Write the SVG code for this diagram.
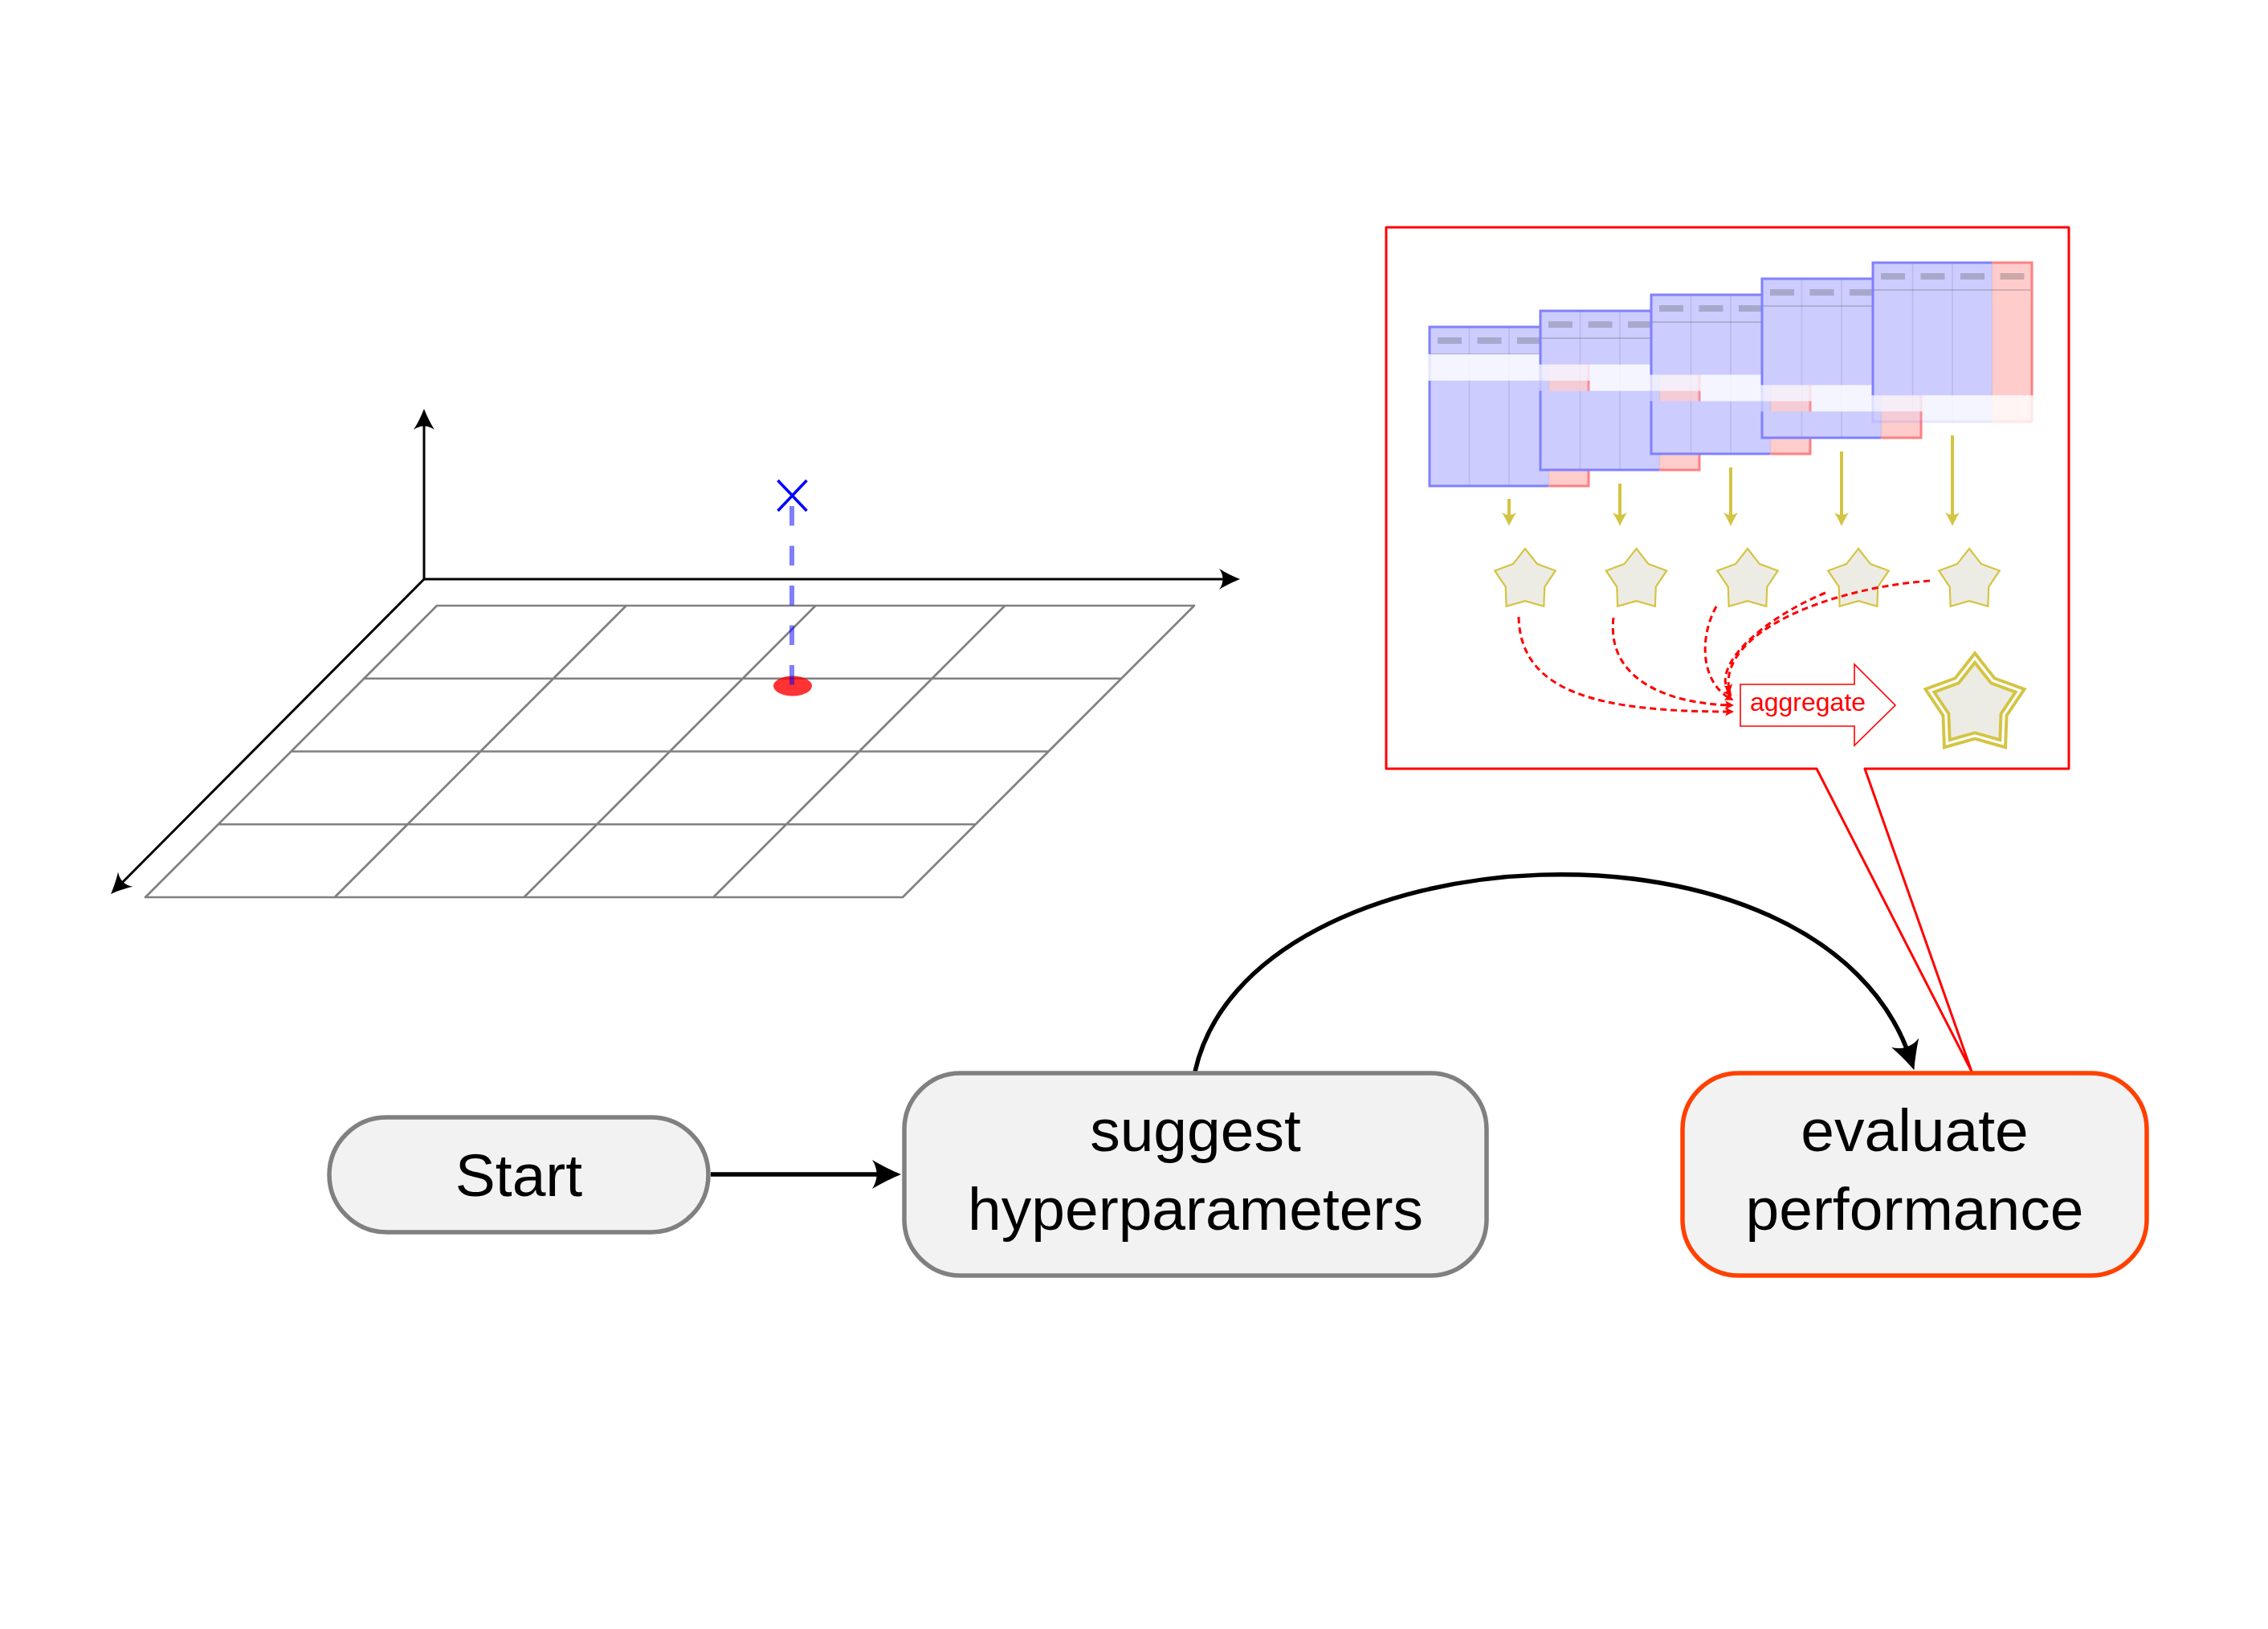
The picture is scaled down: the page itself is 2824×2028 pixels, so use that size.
<svg xmlns="http://www.w3.org/2000/svg" xmlns:xlink="http://www.w3.org/1999/xlink" width="2824" height="2028" viewBox="0 0 2824 2028">
<style>
.grid{stroke:#808080;stroke-width:2.7;fill:none;stroke-linecap:round}
.axis{stroke:#000;stroke-width:3;fill:none}
.node{fill:#f2f2f2;stroke:#808080;stroke-width:5.5}
.lbl{font-family:"Liberation Sans",Arial,Helvetica,sans-serif;font-size:75px;text-anchor:middle;fill:#000}
.yarr{stroke:#d4c443;stroke-width:4;fill:none}
.rdash{stroke:#ff0000;stroke-width:3;fill:none;stroke-dasharray:8 5}
.star{fill:#edece4;stroke:#d4c443;stroke-width:2.2}
</style>
<defs>
<marker id="ahB" markerUnits="userSpaceOnUse" viewBox="-38 -20 40 40" refX="-14" refY="0" markerWidth="40" markerHeight="40" orient="auto">
<path d="M0 0 C-10 -4 -25 -11.5 -36 -18 C-28.5 -7 -28.5 7 -36 18 C-25 11.5 -10 4 0 0Z" fill="#000"/>
</marker>
<marker id="ahA" markerUnits="userSpaceOnUse" viewBox="-28 -15 30 30" refX="-10" refY="0" markerWidth="30" markerHeight="30" orient="auto">
<path d="M0 0 C-8 -3 -18 -8 -26 -13 C-20 -5 -20 5 -26 13 C-18 8 -8 3 0 0Z" fill="#000"/>
</marker>
<marker id="ahY" markerUnits="userSpaceOnUse" viewBox="-19 -10 21 20" refX="-6" refY="0" markerWidth="21" markerHeight="20" orient="auto">
<path d="M0 0 C-5 -2 -12 -6 -17 -9 C-13 -3 -13 3 -17 9 C-12 6 -5 2 0 0Z" fill="#d4c443"/>
</marker>
<marker id="ahR" markerUnits="userSpaceOnUse" viewBox="-13 -7 15 14" refX="-4" refY="0" markerWidth="15" markerHeight="14" orient="auto">
<path d="M0 0 C-3 -1.5 -7 -3.5 -11 -5.5 C-8.5 -2 -8.5 2 -11 5.5 C-7 3.5 -3 1.5 0 0Z" fill="#ff0000"/>
</marker>
<g id="tbl">
<rect x="0" y="0" width="148.5" height="198" fill="#ccccff"/>
<rect x="148.5" y="0" width="49.5" height="198" fill="#ffcccc"/>
<path d="M49.5 0V198M99 0V198M148.5 0V198" stroke="#555" stroke-opacity="0.15" stroke-width="1.5" fill="none"/>
<path d="M0 34H198" stroke="#555" stroke-opacity="0.35" stroke-width="1.5" fill="none"/>
<g fill="#555" fill-opacity="0.3">
<rect x="10" y="13" width="30" height="8"/>
<rect x="59.5" y="13" width="30" height="8"/>
<rect x="109" y="13" width="30" height="8"/>
<rect x="158.5" y="13" width="30" height="8"/>
</g>
<path d="M148.5 0H0V198H148.5" stroke="#8080ff" stroke-width="3" fill="none"/>
<path d="M148.5 0H198V198H148.5" stroke="#ff8080" stroke-width="3" fill="none"/>
</g>
<mask id="mf1" maskUnits="userSpaceOnUse" x="-5" y="-5" width="208" height="212">
<rect x="-5" y="-5" width="208" height="39" fill="#fff"/>
<rect x="-5" y="34" width="208" height="32.8" fill="#fff" fill-opacity="0.2"/>
<rect x="-5" y="66.8" width="208" height="140" fill="#fff"/>
</mask>
<mask id="mf2" maskUnits="userSpaceOnUse" x="-5" y="-5" width="208" height="212">
<rect x="-5" y="-5" width="208" height="71.8" fill="#fff"/>
<rect x="-5" y="66.8" width="208" height="32.8" fill="#fff" fill-opacity="0.2"/>
<rect x="-5" y="99.6" width="208" height="108" fill="#fff"/>
</mask>
<mask id="mf3" maskUnits="userSpaceOnUse" x="-5" y="-5" width="208" height="212">
<rect x="-5" y="-5" width="208" height="104.6" fill="#fff"/>
<rect x="-5" y="99.6" width="208" height="32.8" fill="#fff" fill-opacity="0.2"/>
<rect x="-5" y="132.4" width="208" height="75" fill="#fff"/>
</mask>
<mask id="mf4" maskUnits="userSpaceOnUse" x="-5" y="-5" width="208" height="212">
<rect x="-5" y="-5" width="208" height="137.4" fill="#fff"/>
<rect x="-5" y="132.4" width="208" height="32.8" fill="#fff" fill-opacity="0.2"/>
<rect x="-5" y="165.2" width="208" height="42" fill="#fff"/>
</mask>
<mask id="mf5" maskUnits="userSpaceOnUse" x="-5" y="-5" width="208" height="212">
<rect x="-5" y="-5" width="208" height="170.2" fill="#fff"/>
<rect x="-5" y="165.2" width="208" height="42" fill="#fff" fill-opacity="0.2"/>
</mask>
<path id="star" d="M0 -39.7L14.99 -20.63L37.76 -12.27L24.25 7.88L23.34 32.12L0 25.5L-23.34 32.12L-24.25 7.88L-37.76 -12.27L-14.99 -20.63Z"/>
<path id="bigstar" d="M0 -59L22.28 -30.66L56.11 -18.23L36.05 11.71L34.68 47.73L0 37.9L-34.68 47.73L-36.05 11.71L-56.11 -18.23L-22.28 -30.66Z"/>
</defs>
<rect width="2824" height="2028" fill="#fff"/>

<g id="search-space">
<path class="grid" d="M544 754H1487M453.25 844.75H1396.25M362.5 935.5H1305.5M271.75 1026.25H1214.75M181 1117H1124M544 754L181 1117M779.75 754L416.75 1117M1015.5 754L652.5 1117M1251.25 754L888.25 1117M1487 754L1124 1117"/>
<path class="axis" d="M528 721V519" marker-end="url(#ahA)"/>
<path class="axis" d="M528 721H1534" marker-end="url(#ahA)"/>
<path class="axis" d="M528 721L145 1106" marker-end="url(#ahA)"/>
<ellipse cx="987" cy="854" rx="24" ry="12.5" fill="#ff0000" fill-opacity="0.8"/>
<path d="M986 630V853" stroke="#0000ff" stroke-opacity="0.5" stroke-width="6" stroke-dasharray="24.5 25" fill="none"/>
<path d="M968.5 598L1004.5 636M1004.5 598L968.5 636" stroke="#0000ff" stroke-width="3.5" fill="none"/>
</g>

<g id="callout">
<path d="M2262 957L2455 1334L2322 957H2576V283H1726V957Z" fill="#fff" stroke="#ff0000" stroke-width="3" stroke-linejoin="round"/>
</g>

<g id="folds">
<g transform="translate(1780,407)"><g mask="url(#mf1)"><use xlink:href="#tbl" href="#tbl"/></g></g>
<g transform="translate(1918,387)"><g mask="url(#mf2)"><use xlink:href="#tbl" href="#tbl"/></g></g>
<g transform="translate(2056,367)"><g mask="url(#mf3)"><use xlink:href="#tbl" href="#tbl"/></g></g>
<g transform="translate(2194,347)"><g mask="url(#mf4)"><use xlink:href="#tbl" href="#tbl"/></g></g>
<g transform="translate(2332,327)"><g mask="url(#mf5)"><use xlink:href="#tbl" href="#tbl"/></g></g>
</g>

<g id="fold-arrows">
<path class="yarr" d="M1879 621V649" marker-end="url(#ahY)"/>
<path class="yarr" d="M2017 602V649" marker-end="url(#ahY)"/>
<path class="yarr" d="M2155 582V649" marker-end="url(#ahY)"/>
<path class="yarr" d="M2293 562V649" marker-end="url(#ahY)"/>
<path class="yarr" d="M2431 542V649" marker-end="url(#ahY)"/>
</g>

<g id="scores">
<use class="star" xlink:href="#star" href="#star" x="1899" y="722.7"/>
<use class="star" xlink:href="#star" href="#star" x="2037.5" y="722.7"/>
<use class="star" xlink:href="#star" href="#star" x="2176" y="722.7"/>
<use class="star" xlink:href="#star" href="#star" x="2314" y="722.7"/>
<use class="star" xlink:href="#star" href="#star" x="2452" y="722.7"/>
</g>

<g id="score-links">
<path class="rdash" d="M1891 768C1893 862 1990 886 2155 886" marker-end="url(#ahR)"/>
<path class="rdash" d="M2009 769C2000 845 2075 876 2155 878" marker-end="url(#ahR)"/>
<path class="rdash" d="M2137 755C2115 795 2118 850 2155 870" marker-end="url(#ahR)"/>
<path class="rdash" d="M2273 738C2195 770 2128 830 2154 864" marker-end="url(#ahR)"/>
<path class="rdash" d="M2403 723C2270 733 2140 790 2153 859" marker-end="url(#ahR)"/>
</g>

<g id="aggregate">
<path d="M2167 852H2309V827L2360 878L2309 928V904H2167Z" fill="#fff" stroke="#ff0000" stroke-width="1.6"/>
<text x="2251" y="885" font-family="Liberation Sans, Arial, Helvetica, sans-serif" font-size="32" text-anchor="middle" fill="#ff0000">aggregate</text>
</g>

<g id="final-score" transform="translate(2459,878)">
<use xlink:href="#bigstar" href="#bigstar" fill="#edece4" stroke="#d4c443" stroke-width="11" stroke-miterlimit="10"/>
<use xlink:href="#bigstar" href="#bigstar" fill="none" stroke="#fff" stroke-width="3.2" stroke-miterlimit="10"/>
</g>

<g id="connectors">
<path d="M885 1462H1108" stroke="#000" stroke-width="5.5" fill="none" marker-end="url(#ahB)"/>
<path d="M1488 1334C1555 1030 2270 990 2379 1319" stroke="#000" stroke-width="5.5" fill="none" marker-end="url(#ahB)"/>
</g>

<g id="node-start">
<rect class="node" x="410" y="1391" width="472" height="143" rx="71.5" ry="71.5"/>
<text class="lbl" x="646" y="1489">Start</text>
</g>
<g id="node-suggest">
<rect class="node" x="1126" y="1336" width="725" height="252" rx="70" ry="70"/>
<text class="lbl" x="1488.5" y="1433">suggest</text>
<text class="lbl" x="1488.5" y="1531">hyperparameters</text>
</g>
<g id="node-evaluate">
<rect class="node" x="2095" y="1336" width="578" height="252" rx="70" ry="70" style="stroke:#ff4000"/>
<text class="lbl" x="2384" y="1433">evaluate</text>
<text class="lbl" x="2384" y="1531">performance</text>
</g>
</svg>
